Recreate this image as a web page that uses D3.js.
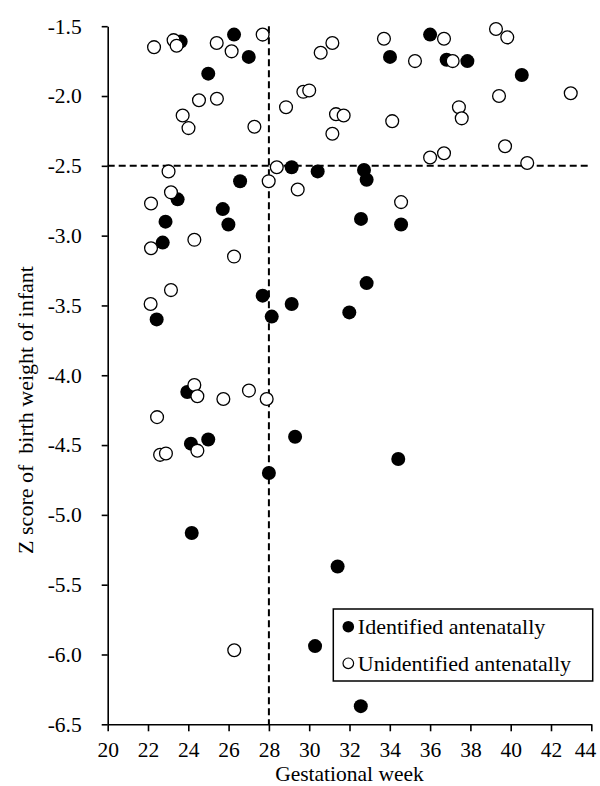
<!DOCTYPE html>
<html>
<head>
<meta charset="utf-8">
<script src="https://cdn.jsdelivr.net/npm/d3@7"></script>
<style>
  html, body { margin: 0; padding: 0; background: #fff; }
  text { font-family: "Liberation Serif", "Times New Roman", "DejaVu Serif", serif; }
</style>
</head>
<body>
<div id="chart"></div>
<script>
// gestational week / z score pairs
const identified = [
  [23.62, -1.61], [26.27, -1.56], [27.00, -1.72], [24.99, -1.84], [26.57, -2.61],
  [23.47, -2.74], [22.87, -2.90], [25.71, -2.81], [25.99, -2.92], [22.73, -3.05],
  [22.43, -3.60], [27.69, -3.43], [28.14, -3.58], [29.13, -3.49], [29.13, -2.51],
  [30.42, -2.54], [32.72, -2.53], [32.85, -2.60], [32.57, -2.88], [34.56, -2.92],
  [32.85, -3.34], [31.99, -3.55], [36.00, -1.56], [34.01, -1.72], [36.82, -1.74],
  [37.85, -1.75], [40.55, -1.85], [23.95, -4.12], [24.13, -4.49], [24.99, -4.46],
  [28.00, -4.70], [29.30, -4.44], [34.42, -4.60], [24.17, -5.13], [31.41, -5.37],
  [30.29, -5.94], [32.56, -6.37]
];

const unidentified = [
  [22.30, -1.65], [23.27, -1.60], [23.42, -1.64], [25.41, -1.62], [26.15, -1.68],
  [27.69, -1.56], [24.53, -2.03], [25.42, -2.02], [23.72, -2.14], [24.01, -2.23],
  [27.28, -2.22], [23.02, -2.54], [23.14, -2.69], [22.15, -2.77], [27.99, -2.61],
  [28.39, -2.51], [29.43, -2.67], [31.15, -1.62], [30.57, -1.69], [33.71, -1.59],
  [35.25, -1.75], [29.71, -1.97], [30.00, -1.96], [28.85, -2.08], [31.33, -2.13],
  [31.71, -2.14], [31.15, -2.27], [34.12, -2.18], [36.00, -2.44], [36.69, -2.41],
  [36.69, -1.59], [37.12, -1.75], [37.43, -2.08], [37.57, -2.16], [39.27, -1.52],
  [39.83, -1.58], [39.42, -2.00], [39.72, -2.36], [40.82, -2.48], [42.98, -1.98],
  [24.30, -3.03], [22.15, -3.09], [26.27, -3.15], [23.14, -3.39], [22.13, -3.49],
  [24.30, -4.07], [24.45, -4.15], [25.74, -4.17], [27.01, -4.11], [27.89, -4.17],
  [22.45, -4.30], [24.45, -4.54], [22.60, -4.57], [22.89, -4.56], [26.28, -5.97],
  [34.56, -2.76]
];

const xTicks = d3.range(20, 45, 2);
const yTicks = d3.range(-6.5, -1.49, 0.5);
const cutWeek = 28;
const cutZ = -2.5;
const legendLabels = ["Identified antenatally", "Unidentified antenatally"];

// chart dimensions
const W = 600, H = 786;
const margin = { top: 26.2, right: 8.7, bottom: 61.7, left: 107.7 },
      width  = W - margin.left - margin.right,
      height = H - margin.top - margin.bottom;

const svg = d3.select("#chart")
  .append("svg")
    .attr("width", W)
    .attr("height", H)
  .append("g")
    .attr("transform", `translate(${margin.left},${margin.top})`);

const x = d3.scaleLinear().domain([20, 44]).range([0, width]);
const y = d3.scaleLinear().domain([-6.5, -1.5]).range([height, 0]);

// axes
const xAxis = svg.append("g")
  .attr("transform", `translate(0,${height})`)
  .call(d3.axisBottom(x).tickValues(xTicks).tickSize(7).tickSizeOuter(0).tickPadding(10)
    .tickFormat(d => d));

const yAxis = svg.append("g")
  .call(d3.axisLeft(y).tickValues(yTicks).tickSize(6).tickSizeOuter(0).tickPadding(20)
    .tickFormat(d => d.toFixed(1)));

[xAxis, yAxis].forEach(g => {
  g.attr("font-family", null).attr("font-size", null);
  g.select(".domain").attr("stroke", "#000").attr("stroke-width", 1.6);
  g.selectAll(".tick line").attr("stroke", "#000").attr("stroke-width", 1.6);
  g.selectAll(".tick text")
    .attr("fill", "#000")
    .style("font-size", "21.5px");
});

// last week label is pulled in so it stays inside the frame
xAxis.selectAll(".tick text")
  .filter(d => d === 44)
  .attr("text-anchor", "end")
  .attr("dx", 4.5);

// cut-off lines
svg.append("line")
  .attr("x1", x(cutWeek)).attr("x2", x(cutWeek))
  .attr("y1", 0).attr("y2", height)
  .attr("stroke", "#000").attr("stroke-width", 2)
  .attr("stroke-dasharray", "7,4");

svg.append("line")
  .attr("x1", 0).attr("x2", width)
  .attr("y1", y(cutZ)).attr("y2", y(cutZ))
  .attr("stroke", "#000").attr("stroke-width", 2)
  .attr("stroke-dasharray", "7,4");

// points: filled first, open ones on top
svg.selectAll(".ident")
  .data(identified)
  .enter()
  .append("circle")
    .attr("class", "ident")
    .attr("cx", d => x(d[0]))
    .attr("cy", d => y(d[1]))
    .attr("r", 7)
    .attr("fill", "#000");

svg.selectAll(".unident")
  .data(unidentified)
  .enter()
  .append("circle")
    .attr("class", "unident")
    .attr("cx", d => x(d[0]))
    .attr("cy", d => y(d[1]))
    .attr("r", 6.4)
    .attr("fill", "#fff")
    .attr("stroke", "#000")
    .attr("stroke-width", 1.3);

// axis titles
svg.append("text")
  .attr("x", width / 2)
  .attr("y", height + 57)
  .attr("text-anchor", "middle")
  .style("font-size", "21.5px")
  .text("Gestational week");

svg.append("text")
  .attr("transform", `translate(${33 - margin.left},${410 - margin.top}) rotate(-90)`)
  .attr("text-anchor", "middle")
  .style("font-size", "22px")
  .style("white-space", "pre")
  .text("Z score of  birth weight of infant");

// legend
const legend = svg.append("g")
  .attr("transform", `translate(${333.3 - margin.left},${609 - margin.top})`);

legend.append("rect")
  .attr("width", 259.4)
  .attr("height", 72)
  .attr("fill", "#fff")
  .attr("stroke", "#000")
  .attr("stroke-width", 1.5);

legendLabels.forEach((label, i) => {
  const row = legend.append("g")
    .attr("transform", `translate(0,${17.7 + i * 36.6})`);
  row.append("circle")
    .attr("cx", 15)
    .attr("cy", 0)
    .attr("r", i === 0 ? 5.8 : 5.3)
    .attr("fill", i === 0 ? "#000" : "#fff")
    .attr("stroke", "#000")
    .attr("stroke-width", i === 0 ? 0 : 1.2);
  row.append("text")
    .attr("x", 24.5)
    .attr("y", 7.6)
    .style("font-size", "22px")
    .text(label);
});
</script>
</body>
</html>
